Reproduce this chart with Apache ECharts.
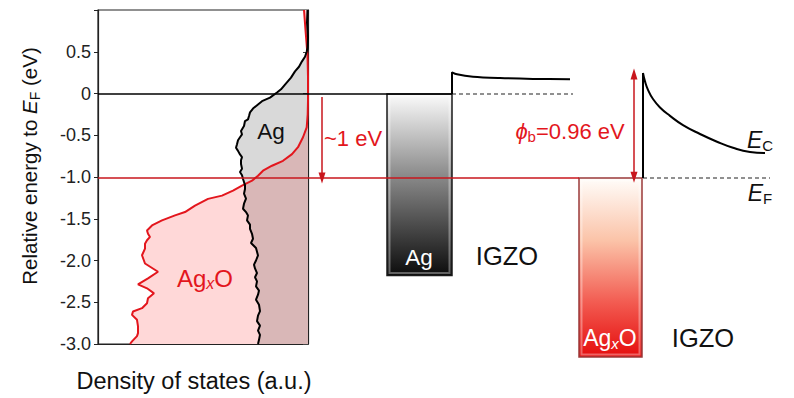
<!DOCTYPE html>
<html><head><meta charset="utf-8">
<script src="https://cdn.jsdelivr.net/npm/echarts@6.0.0/dist/echarts.min.js"></script>
<style>html,body{margin:0;padding:0;background:#fff}#c{width:794px;height:398px}</style>
</head><body><div id="c"></div>
<script>
// ---- Density of states (left panel) ----
const agEnergy = [1.00,0.85,0.67,0.55,0.50,0.44,0.385,0.32,0.265,0.19,0.107,0.05,0.012,-0.05,-0.092,-0.131,-0.18,-0.226,-0.27,-0.31,-0.33,-0.39,-0.449,-0.49,-0.524,-0.56,-0.607,-0.65,-0.687,-0.73,-0.762,-0.80,-0.845,-0.90,-0.94,-0.98,-1.024,-1.06,-1.10,-1.143,-1.20,-1.26,-1.32,-1.38,-1.42,-1.46,-1.52,-1.57,-1.62,-1.68,-1.74,-1.79,-1.85,-1.94,-2.00,-2.05,-2.095,-2.15,-2.20,-2.25,-2.31,-2.36,-2.41,-2.47,-2.53,-2.607,-2.66,-2.726,-2.78,-2.84,-2.89,-2.95,-3.00];
const agDos    = [0.5,1,0,0.5,1.3,3,6,9,13,17,23,27,31,38,46,50,55,58,59,60,63,64,67,66,68,70,71,72,70,68,66,67,67,66,68,66,65,64,63,63,64,62,64,65,62,60,61,58,58,56,55,57,52,50,52,54,53,51,53,51,52,49,50,52,49,48,50,51,48,50,48,49,50];
const agxoEnergy = [1.00,0.76,0.46,0.2,-0.09,-0.25,-0.405,-0.524,-0.643,-0.726,-0.806,-0.865,-0.925,-0.985,-1.044,-1.104,-1.163,-1.223,-1.262,-1.342,-1.42,-1.46,-1.52,-1.58,-1.64,-1.68,-1.718,-1.758,-1.80,-1.857,-1.937,-2.036,-2.135,-2.214,-2.286,-2.333,-2.393,-2.452,-2.512,-2.571,-2.61,-2.651,-2.71,-2.79,-2.869,-2.905,-2.968,-3.0];
const agxoDos    = [4,2.5,0.5,0,0,0.3,1.3,5,10,16,25,36,45,50,56,66,75,86,100,113,123,133,146,156,161,160,158,161,163,163,166,163,150,160,170,161,154,160,161,166,175,176,171,170,170,171,176,178];
const energyTicks = [-3.0,-2.5,-2.0,-1.5,-1.0,-0.5,0,0.5,1.0];

// ---- Band diagram (right part), x in schematic units ----
const agBarX = [289, 354];      const agBarE = [0, -2.16];
const agxoBarX = [481, 544];    const agxoBarE = [-1.0, -3.13];
const agEcX = [354, 354, 359, 375, 402, 435, 472];
const agEcE = [0, 0.258, 0.234, 0.206, 0.19, 0.18, 0.175];
const igzoWallX = [545, 545];   const igzoWallE = [-1.0, 0.25];
const igzoEcX = [545, 547, 550, 555, 562, 572, 585, 602, 619, 635, 652, 667];
const igzoEcE = [0.25, 0.15, 0.05, -0.06, -0.16, -0.26, -0.37, -0.476, -0.568, -0.64, -0.69, -0.703];
const efAgX = [0, 354];         const efAgDashX = [354, 475];   const efAg = 0;
const efAgxoX = [0, 481];       const efIgzoDashX = [545, 672]; const efAgxo = -1.0;
const oneEvArrowX = [224, 224]; const oneEvArrowE = [-0.036, -1.0];
const phiArrowX = [536, 536];   const phiArrowE = [0.238, -0.99];

const FONT = 'Arial, "Liberation Sans", Helvetica, sans-serif';
const RED = '#e3161d';
const DARKRED = '#c8161d';

function pairs(xs, ys) { return xs.map((x, i) => [x, ys[i]]); }

function polygonFill(energy, dos, fill) {
  return {
    type: 'custom', xAxisIndex: 0, yAxisIndex: 0, data: [[0, 0]], clip: true, silent: true,
    renderItem: function (params, api) {
      const pts = energy.map((e, i) => api.coord([dos[i], e]));
      pts.push(api.coord([0, energy[energy.length - 1]]));
      pts.push(api.coord([0, energy[0]]));
      return { type: 'polygon', shape: { points: pts }, style: { fill: fill } };
    }
  };
}

function lineSeries(data, color, width, type, extra) {
  return Object.assign({
    type: 'line', xAxisIndex: 1, yAxisIndex: 2, data: data, showSymbol: false, symbol: 'none',
    silent: true, clip: false, lineStyle: { color: color, width: width, type: type || 'solid' }
  }, extra || {});
}

const sub = (size, pad) => ({ fontSize: size, fontFamily: FONT, padding: [pad, 0, 0, 0] });
function label(x, y, style) {
  return { type: 'text', x: x, y: y, z: 100, silent: true,
    style: Object.assign({ fontFamily: FONT, align: 'center', verticalAlign: 'middle' }, style) };
}

const chart = echarts.init(document.getElementById('c'), null, { renderer: 'svg' });
chart.setOption({
  animation: false,
  backgroundColor: '#fff',
  grid: [
    { left: 98, top: 10, width: 210, height: 336, show: true, borderColor: '#222', borderWidth: 1.2, backgroundColor: 'transparent' },
    { left: 98, top: 10, width: 696, height: 352.8 }
  ],
  xAxis: [
    { gridIndex: 0, type: 'value', min: 0, max: 210, inverse: true,
      axisLine: { show: true, onZero: false, lineStyle: { color: '#222', width: 1.2 } },
      axisTick: { show: false }, axisLabel: { show: false }, splitLine: { show: false },
      name: 'Density of states (a.u.)', nameLocation: 'middle', nameGap: 25,
      nameTextStyle: { fontSize: 23.5, fontFamily: FONT, color: '#111', padding: [0, 18, 0, 0] } },
    { gridIndex: 1, type: 'value', min: 0, max: 696, show: false }
  ],
  yAxis: [
    { gridIndex: 0, type: 'value', min: -3, max: 1, interval: 0.5, position: 'left',
      axisLine: { show: true, onZero: false, lineStyle: { color: '#222', width: 1.2 } },
      axisTick: { show: true, length: 4, lineStyle: { color: '#222' } },
      axisLabel: { fontSize: 18, fontFamily: FONT, color: '#222', margin: 7,
        formatter: v => (v === 1 ? '' : (v === 0 ? '0' : v.toFixed(1))) },
      splitLine: { show: false },
      name: '{n|Relative energy to }{i|E}{s|F}{n| (eV)}', nameLocation: 'middle', nameGap: 56, nameRotate: 90,
      nameTextStyle: { color: '#111', fontSize: 20.5, fontFamily: FONT, padding: [0, 0, 0, 22],
        rich: { n: { fontSize: 20.5, fontFamily: FONT, color: '#111' },
                i: { fontSize: 20.5, fontFamily: FONT, fontStyle: 'italic', color: '#111' },
                s: Object.assign(sub(14, 11), { color: '#111' }) } } },
    { gridIndex: 0, type: 'value', min: -3, max: 1, interval: 0.5, position: 'right',
      axisLine: { show: true, onZero: false, lineStyle: { color: '#222', width: 1.2 } },
      axisTick: { show: true, inside: true, length: 5, lineStyle: { color: '#444' } },
      axisLabel: { show: false }, splitLine: { show: false } },
    { gridIndex: 1, type: 'value', min: -3.2, max: 1, show: false }
  ],
  series: [
    polygonFill(agxoEnergy, agxoDos, '#ffd8d8'),
    polygonFill(agEnergy, agDos, 'rgba(0,0,0,0.15)'),
    { type: 'line', xAxisIndex: 0, yAxisIndex: 0, data: pairs(agxoDos, agxoEnergy), showSymbol: false, symbol: 'none',
      silent: true, clip: true, lineStyle: { color: RED, width: 2 } },
    { type: 'line', xAxisIndex: 0, yAxisIndex: 0, data: pairs(agDos, agEnergy), showSymbol: false, symbol: 'none',
      silent: true, clip: true, lineStyle: { color: '#000', width: 2 } },
    lineSeries(pairs(efAgX, [efAg, efAg]), '#000', 1.3),
    { type: 'custom', xAxisIndex: 1, yAxisIndex: 2, clip: false, silent: true,
      data: [[agBarX[0], agBarX[1], agBarE[0], agBarE[1], 0], [agxoBarX[0], agxoBarX[1], agxoBarE[0], agxoBarE[1], 1]],
      renderItem: function (params, api) {
        const p0 = api.coord([api.value(0), api.value(2)]);
        const p1 = api.coord([api.value(1), api.value(3)]);
        const kind = api.value(4);
        const stops = kind === 0
          ? [{ offset: 0, color: '#fbfbfb' }, { offset: 0.45, color: '#8a8a8a' }, { offset: 1, color: '#0c0c0c' }]
          : [{ offset: 0, color: '#fffdfa' }, { offset: 0.35, color: '#fbc3a8' }, { offset: 0.7, color: '#f25a50' }, { offset: 1, color: '#e50d0d' }];
        const w = p1[0] - p0[0], h = p1[1] - p0[1];
        return { type: 'group', children: [
          { type: 'rect', shape: { x: p0[0], y: p0[1], width: w, height: h },
            style: { fill: { type: 'linear', x: 0, y: 0, x2: 0, y2: 1, colorStops: stops },
                     stroke: kind === 0 ? '#1a1a1a' : '#9b3a3a', lineWidth: 1.5 } },
          { type: 'rect', shape: { x: p0[0] + 2.5, y: p0[1] + 2.5, width: w - 5, height: h - 5 },
            style: { fill: 'none', stroke: 'rgba(255,255,255,0.35)', lineWidth: 2 } }
        ] };
      } },
    lineSeries(pairs(efAgDashX, [efAg, efAg]), '#222', 1.2, [4, 3]),
    lineSeries(pairs(efIgzoDashX, [efAgxo, efAgxo]), '#222', 1.2, [4, 3]),
    lineSeries(pairs(agEcX, agEcE), '#000', 2, 'solid', { smooth: 0.3 }),
    lineSeries(pairs(igzoWallX, igzoWallE), '#000', 2),
    lineSeries(pairs(igzoEcX, igzoEcE), '#000', 2, 'solid', { smooth: 0.5 }),
    lineSeries(pairs(efAgxoX, [efAgxo, efAgxo]), DARKRED, 1.5, 'solid', {
      markLine: { silent: true, animation: false, label: { show: false },
        lineStyle: { color: DARKRED, width: 1.5, type: 'solid' }, symbolSize: [7, 11],
        data: [
          [{ coord: [oneEvArrowX[0], oneEvArrowE[0]], symbol: 'none' }, { coord: [oneEvArrowX[1], oneEvArrowE[1]], symbol: 'triangle' }],
          [{ coord: [phiArrowX[0], phiArrowE[0]], symbol: 'triangle' }, { coord: [phiArrowX[1], phiArrowE[1]], symbol: 'triangle' }]
        ] } })
  ],
  graphic: [
    label(271, 131, { text: 'Ag', fontSize: 22.5, fill: '#111' }),
    label(205, 278, { text: '{n|Ag}{s|x}{n|O}', fill: RED,
        rich: { n: { fontSize: 24, fontFamily: FONT, fill: RED }, s: Object.assign(sub(16, 11), { fontStyle: 'italic', fill: RED }) } }),
    label(353, 138, { text: '~1 eV', fontSize: 22, fill: RED }),
    label(570, 131, { text: '{p|\u03d5}{s|b}{n|=0.96 eV}', fill: RED,
        rich: { p: { fontSize: 22, fontFamily: FONT, fontStyle: 'italic', fill: RED }, n: { fontSize: 22, fontFamily: FONT, fill: RED }, s: Object.assign(sub(15, 10), { fill: RED }) } }),
    label(419, 257, { text: 'Ag', fontSize: 22.5, fill: '#fff' }),
    label(507, 256, { text: 'IGZO', fontSize: 25.5, fill: '#111' }),
    label(610, 338, { text: '{n|Ag}{s|x}{n|O}', fill: '#fff',
        rich: { n: { fontSize: 23, fontFamily: FONT, fill: '#fff' }, s: Object.assign(sub(15, 11), { fontStyle: 'italic', fill: '#fff' }) } }),
    label(703, 338, { text: 'IGZO', fontSize: 25.5, fill: '#111' }),
    label(760, 140, { text: '{i|E}{s|C}', fill: '#111',
        rich: { i: { fontSize: 23, fontFamily: FONT, fontStyle: 'italic', fill: '#111' }, s: Object.assign(sub(15, 11), { fill: '#111' }) } }),
    label(760, 193, { text: '{i|E}{s|F}', fill: '#111',
        rich: { i: { fontSize: 23, fontFamily: FONT, fontStyle: 'italic', fill: '#111' }, s: Object.assign(sub(15, 11), { fill: '#111' }) } })
  ]
});
</script>
</body></html>
